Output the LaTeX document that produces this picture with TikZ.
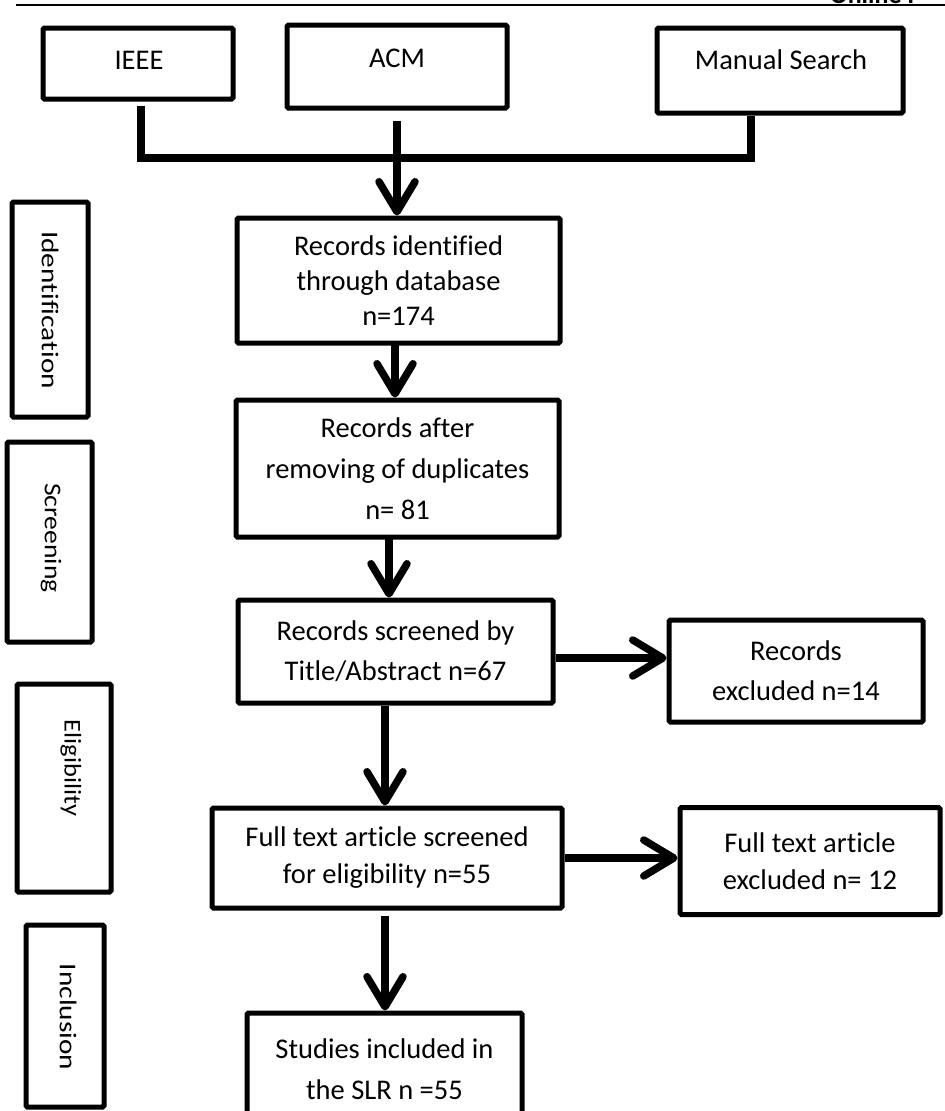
\documentclass[tikz,border=0pt]{standalone}
\usepackage{fontspec}
\setmainfont{Carlito}[Ligatures=NoCommon]
\usetikzlibrary{arrows.meta}
\tikzset{
  box/.style={draw, line width=5pt, rounded corners=1.5pt, inner sep=0pt, align=center,
    font=\fontsize{28.5}{40}\selectfont},
  stage/.style={draw, line width=5pt, rounded corners=1.5pt, inner sep=0pt},
  stagetxt/.style={font=\fontsize{24}{28}\selectfont, rotate=-90, inner sep=0pt},
  conn/.style={line width=7.5pt, line cap=butt},
  arr/.style={line width=7.5pt, -{Straight Barb[length=30pt,width=36pt,round]}},
}
\begin{document}
\begin{tikzpicture}[x=1pt,y=-1pt]
\useasboundingbox (0,0) rectangle (945,1111);
% header rule and clipped running head
\draw[line width=2.5pt] (16,5) -- (945,5);
\node[anchor=base west, inner sep=0pt, font=\fontsize{26}{30}\selectfont\bfseries] (head) at (830,3) {Online I};

% sources
\node[box, minimum width=190pt, minimum height=71pt] (ieee) at (138,63.5) {};
\node[font=\fontsize{28.5}{34}\selectfont] (ieeet) at (139,60) {IEEE};
\node[box, minimum width=220pt, minimum height=83pt] (acm) at (397,66.5) {};
\node[font=\fontsize{28.5}{34}\selectfont] (acmt) at (397,58) {ACM};
\node[box, minimum width=246pt, minimum height=85pt] (man) at (780,70.5) {};
\node[font=\fontsize{28.5}{34}\selectfont] (mant) at (781,60) {Manual Search};

\coordinate (bar) at (397,158);
\draw[conn, shorten <=4pt] ([xshift=3pt]ieee.south) |- ([xshift=-29pt]man.south |- bar) -- ([xshift=-29pt]man.south);
\draw[conn, shorten <=10pt] (acm.south) -- (bar);

% main flow
\node[box, minimum width=323pt, minimum height=125pt, font=\fontsize{28.5}{35}\selectfont] (rec1) at (398.5,280.5)
  {Records identified\\through database\\n=174};
\node[box, minimum width=323pt, minimum height=137pt, font=\fontsize{28.5}{41}\selectfont] (rec2) at (397.5,468.5)
  {Records after\\removing of duplicates\\n= 81};
\node[box, minimum width=315pt, minimum height=103pt] (rec3) at (395.5,651.5)
  {Records screened by\\Title/Abstract n=67};
\node[box, minimum width=254pt, minimum height=102pt] (ex1) at (796,671)
  {Records\\excluded n=14};
\node[box, minimum width=350pt, minimum height=100pt, font=\fontsize{28.5}{37}\selectfont] (full) at (387,858)
  {Full text article screened\\for eligibility n=55};
\node[box, minimum width=260pt, minimum height=107pt, font=\fontsize{28.5}{37}\selectfont] (ex2) at (810,861)
  {Full text article\\excluded n= 12};
\node[box, minimum width=275pt, minimum height=112pt, font=\fontsize{28.5}{41}\selectfont] (inc) at (384.5,1069)
  {Studies included in\\the SLR n =55};

\draw[arr] (bar) -- (rec1.north -| bar);
\draw[arr, shorten <=-2pt] (rec1.south -| 395,0) -- (rec2.north -| 395,0);
\draw[arr, shorten <=-4pt] (rec2.south -| 389,0) -- (rec3.north -| 389,0);
\draw[arr] (rec3.south -| 385,0) -- (full.north -| 385,0);
\draw[arr, shorten <=5pt] (full.south -| 385,0) -- (inc.north -| 385,0);
\draw[arr] (rec3.east |- 0,658) -- (ex1.west |- 0,658);
\draw[arr] (full.east |- 0,858) -- (ex2.west |- 0,858);

% stages
\node[stage, minimum width=76pt, minimum height=215pt] (s1) at (50,309.5) {};
\node[stagetxt] (s1t) at (50,310) {\scalebox{1.22}[1]{Identification}};
\node[stage, minimum width=85pt, minimum height=200pt] (s2) at (49.5,542) {};
\node[stagetxt] (s2t) at (51,538) {\scalebox{1.15}[1]{Screening}};
\node[stage, minimum width=94pt, minimum height=208pt] (s3) at (64,788) {};
\node[stagetxt] (s3t) at (71,768) {\scalebox{1.1}[1]{Eligibility}};
\node[stage, minimum width=78pt, minimum height=182pt] (s4) at (65,1016) {};
\node[stagetxt] (s4t) at (68,1017) {\scalebox{1.22}[1]{Inclusion}};
\end{tikzpicture}
\end{document}
